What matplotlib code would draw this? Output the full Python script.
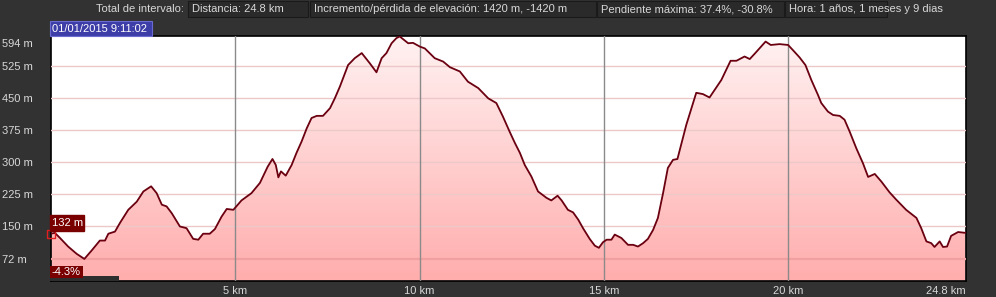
import numpy as np
import matplotlib
matplotlib.use("Agg")
import matplotlib.pyplot as plt
from matplotlib.patches import Rectangle
from matplotlib.colors import LinearSegmentedColormap
from matplotlib.transforms import ScaledTranslation

# elevation profile (km, m)
dist_km = [0.0, 0.11, 0.25, 0.47, 0.70, 0.91, 1.11, 1.33, 1.47, 1.56, 1.74, 1.88,
           2.10, 2.33, 2.51, 2.72, 2.87, 3.01, 3.14, 3.28, 3.50, 3.68, 3.86, 4.00,
           4.13, 4.31, 4.45, 4.63, 4.77, 4.95, 5.17, 5.44, 5.67, 5.88, 6.01, 6.10,
           6.17, 6.24, 6.37, 6.53, 6.66, 6.80, 6.94, 7.07, 7.21, 7.38, 7.57, 7.70,
           7.84, 8.06, 8.24, 8.43, 8.65, 8.83, 8.97, 9.10, 9.24, 9.37, 9.46, 9.69,
           9.82, 10.01, 10.14, 10.41, 10.64, 10.82, 11.09, 11.31, 11.59, 11.86, 12.08,
           12.26, 12.44, 12.58, 12.72, 12.85, 13.03, 13.21, 13.44, 13.57, 13.74, 13.85,
           14.02, 14.16, 14.30, 14.43, 14.61, 14.75, 14.86, 14.97, 15.07, 15.20, 15.29,
           15.47, 15.65, 15.79, 15.92, 16.06, 16.19, 16.33, 16.46, 16.60, 16.73, 16.87,
           16.99, 17.10, 17.23, 17.37, 17.50, 17.68, 17.86, 18.00, 18.18, 18.29, 18.43,
           18.59, 18.81, 18.95, 19.10, 19.38, 19.52, 19.76, 19.99, 20.12, 20.30, 20.46,
           20.62, 20.80, 20.89, 21.07, 21.21, 21.39, 21.52, 21.66, 21.84, 22.02, 22.16,
           22.34, 22.52, 22.74, 22.92, 23.19, 23.47, 23.60, 23.74, 23.87, 23.96, 24.10,
           24.19, 24.30, 24.41, 24.60, 24.8]
elev_m = [132, 134, 122, 102, 85, 73, 93, 116, 116, 132, 137, 158,
          188, 207, 231, 243, 227, 200, 196, 180, 149, 145, 120, 118,
          132, 132, 143, 172, 190, 188, 210, 227, 251, 289, 307, 293,
          264, 278, 268, 293, 321, 348, 379, 403, 408, 408, 426, 449,
          477, 527, 543, 555, 531, 510, 543, 555, 578, 590, 594, 578,
          579, 570, 566, 543, 535, 522, 512, 488, 473, 449, 438,
          406, 371, 345, 321, 293, 266, 231, 216, 210, 221, 210,
          188, 182, 165, 145, 120, 104, 99, 112, 118, 118, 130,
          122, 106, 106, 102, 110, 120, 141, 169, 227, 286, 305,
          307, 344, 387, 426, 462, 459, 451, 469, 492, 512, 537,
          537, 547, 541, 555, 582, 574, 576, 574, 562, 545, 527,
          492, 457, 438, 418, 410, 408, 399, 371, 332, 297, 265,
          272, 254, 229, 212, 188, 169, 145, 114, 110, 101, 114,
          101, 102, 127, 136, 134]

y_ticks = [72, 150, 225, 300, 375, 450, 525, 594]
x_ticks = [5, 10, 15, 20, 24.8]
x_labels = ["5 km", "10 km", "15 km", "20 km", "24.8 km"]

header_lead = "Total de intervalo:"
header_boxes = ["Distancia: 24.8 km",
                "Incremento/pérdida de elevación: 1420 m, -1420 m",
                "Pendiente máxima: 37.4%, -30.8%",
                "Hora: 1 años, 1 meses y 9 dias"]
date_label = "01/01/2015 9:11:02"
start_label = "132 m"
slope_label = "-4.3%"

W, H = 996, 297
BG = "#323232"
TXT = "#d8d8d8"

plt.rcParams['font.family'] = ['Liberation Sans', 'DejaVu Sans']
fig = plt.figure(figsize=(W / 100, H / 100), dpi=100, facecolor=BG)


def fx(px):
    return px / W


def fy(py):
    return 1 - py / H


# header row
fig.text(fx(184), fy(9), header_lead, color=TXT, fontsize=8, ha="right", va="center")
box_x = [(188, 308), (310, 596), (597, 784), (785, 887)]
for (x0, x1), s in zip(box_x, header_boxes):
    fig.patches.append(Rectangle((fx(x0), fy(17)), fx(x1 - x0), 16 / H,
                                 transform=fig.transFigure, facecolor="#2a2a2a",
                                 edgecolor="#1a1a1a", lw=0.8))
    fig.text(fx(x0 + 4), fy(9), s, color=TXT, fontsize=8, ha="left", va="center")

# plot area
ax = fig.add_axes([fx(50.8), fy(280.7), fx(965.5 - 50.8), (280.7 - 36) / H])
ax.set_facecolor("white")
ylo, yhi = 22, 595
ax.set_xlim(0, 24.8)
ax.set_ylim(ylo, yhi)

for t in y_ticks[:-1]:
    ax.axhline(t, color="#f0a0a0" if t == 72 else "#ecc8c8",
               lw=1.6 if t == 72 else 1.0, zorder=3)
for t in x_ticks[:-1]:
    ax.axvline(t, color="#8a8a8a", lw=1.0, zorder=3)

# gradient fill under the profile
grad = np.linspace(0, 1, 256).reshape(-1, 1)
cmap = LinearSegmentedColormap.from_list("pk", ["#fff2f2", "#ffadad"])
img = ax.imshow(grad, extent=[0, 24.8, ylo, yhi], origin="upper", aspect="auto",
                cmap=cmap, zorder=1)
poly = ax.fill_between(dist_km, elev_m, ylo, facecolor="none", edgecolor="none")
img.set_clip_path(poly.get_paths()[0], transform=ax.transData)
ax.plot(dist_km, elev_m, color="#6a0010", lw=1.3, zorder=4)

for s in ax.spines.values():
    s.set_color("black")
    s.set_linewidth(1.2)

ax.set_yticks(y_ticks)
ax.set_yticklabels([f"{v} m" for v in y_ticks])
ax.tick_params(axis="y", length=0, pad=35, labelsize=8, labelcolor=TXT)
for lab in ax.get_yticklabels():
    lab.set_horizontalalignment("left")
top_lab = ax.get_yticklabels()[-1]
top_lab.set_transform(top_lab.get_transform() + ScaledTranslation(0, -0.07, fig.dpi_scale_trans))

ax.set_xticks(x_ticks)
ax.set_xticklabels(x_labels)
ax.tick_params(axis="x", length=0, pad=4, labelsize=8, labelcolor=TXT)
ax.get_xticklabels()[-1].set_horizontalalignment("right")

# date label above the plot
fig.patches.append(Rectangle((fx(50), fy(36)), fx(102), 15 / H, transform=fig.transFigure,
                             facecolor="#3d3da8", edgecolor="#6a6ad0", lw=0.8))
fig.text(fx(52), fy(28.5), date_label, color="white", fontsize=8, ha="left", va="center")

# start marker and labels
ax.plot([dist_km[0]], [elev_m[0]], marker="s", ms=6, mfc="none", mec="#e02020",
        mew=1.0, clip_on=False, zorder=6)
fig.patches.append(Rectangle((fx(50), fy(231)), fx(34), 16 / H, transform=fig.transFigure,
                             facecolor="#7a0000", edgecolor="#7a0000", zorder=5))
fig.text(fx(52), fy(223), start_label, color="white", fontsize=8, ha="left", va="center", zorder=6)
fig.patches.append(Rectangle((fx(50), fy(281)), fx(69), 5 / H, transform=fig.transFigure,
                             facecolor="#2e2e2e", edgecolor="none", zorder=5))
fig.patches.append(Rectangle((fx(50), fy(278)), fx(33), 12 / H, transform=fig.transFigure,
                             facecolor="#7a0000", edgecolor="none", zorder=5))
fig.text(fx(51), fy(272), slope_label, color="white", fontsize=8, ha="left", va="center", zorder=6)

fig.savefig("out.png", dpi=100, facecolor=BG)
